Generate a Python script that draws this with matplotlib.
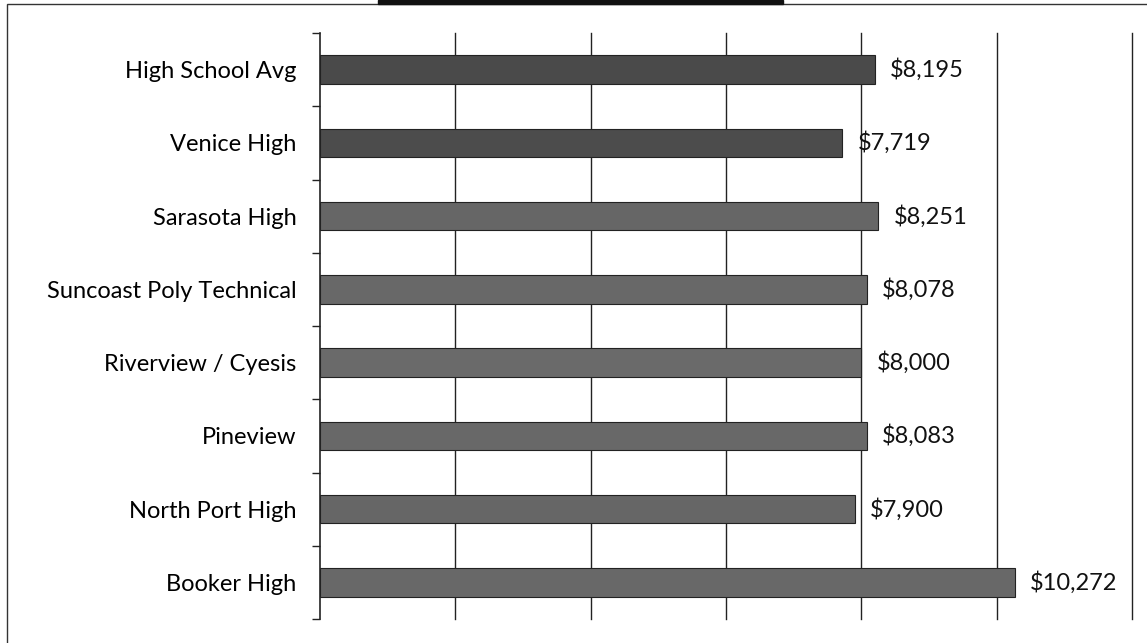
import numpy as np
import matplotlib
matplotlib.use("Agg")
from matplotlib import pyplot as plt
from matplotlib.patches import Rectangle

schools = ["High School Avg", "Venice High", "Sarasota High", "Suncoast Poly Technical",
           "Riverview / Cyesis", "Pineview", "North Port High", "Booker High"]
costs = [8195, 7719, 8251, 8078, 8000, 8083, 7900, 10272]
value_labels = ["$8,195", "$7,719", "$8,251", "$8,078", "$8,000", "$8,083", "$7,900", "$10,272"]
bar_colors = ["#4a4a4a", "#4c4c4c", "#666666", "#686868", "#6a6a6a", "#686868", "#666666", "#686868"]

plt.rcParams['font.family'] = ['Lato', 'DejaVu Sans']

fig = plt.figure(figsize=(11.47, 6.43), dpi=100)
ax = fig.add_axes([320 / 1147, 1 - 619 / 643, (1132 - 320) / 1147, (619 - 33) / 643])

y = np.arange(len(schools))
ax.barh(y, costs, height=0.39, color=bar_colors, edgecolor="#222222", linewidth=0.8, zorder=3)

for yi, c, lab in zip(y, costs, value_labels):
    ax.annotate(lab, (c, yi), xytext=(11, 0), textcoords="offset points",
                va="center", ha="left", fontsize=17, color="#111111")

ax.set_xlim(0, 12000)
ax.set_ylim(len(schools) - 0.5, -0.5)
ax.set_xticks(np.arange(2000, 12001, 2000))
ax.xaxis.grid(True, color="#222222", linewidth=1.0)
for gl in ax.xaxis.get_gridlines():
    gl.set_clip_on(False)
ax.tick_params(axis="x", length=0, labelbottom=False)

ax.set_yticks(y)
ax.set_yticklabels(schools, fontsize=17)
ax.set_yticks(np.arange(-0.5, len(schools), 1), minor=True)
ax.tick_params(axis="y", which="major", length=0, pad=17)
ax.tick_params(axis="y", which="minor", length=6, width=1, color="#222222", direction="out")

for s in ["top", "right", "bottom"]:
    ax.spines[s].set_visible(False)
ax.spines["left"].set_color("#222222")
ax.spines["left"].set_linewidth(1.2)

# outer frame of the scanned chart
fig.patches.append(Rectangle((7 / 1147, -0.05), 1.2, 1.05 - 4 / 643, transform=fig.transFigure,
                             fill=False, edgecolor="#333333", linewidth=1.0))
fig.patches.append(Rectangle((378 / 1147, 1 - 4 / 643), (783 - 378) / 1147, 4 / 643,
                             transform=fig.transFigure, color="#111111"))

fig.savefig("out.png", dpi=100)
